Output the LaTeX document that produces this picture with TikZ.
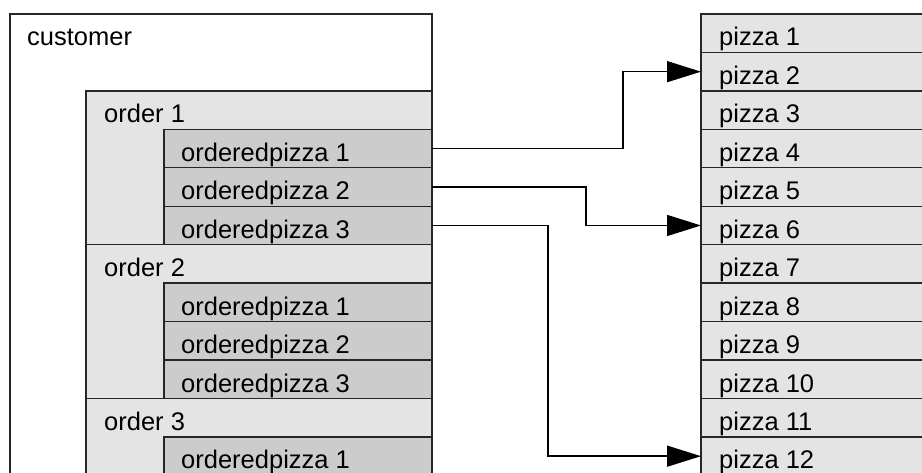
\documentclass[tikz,border=0pt]{standalone}
\usepackage{fontspec}
\setmainfont{Liberation Sans}
\usetikzlibrary{arrows.meta,calc}
\definecolor{lightfill}{HTML}{E4E4E4}
\definecolor{darkfill}{HTML}{CCCCCC}
\definecolor{edge}{HTML}{262626}
\begin{document}
\begin{tikzpicture}[x=1pt,y=-1pt,
  cell/.style={draw=edge, line width=1.4pt, rectangle, anchor=north west, inner sep=0pt, outer sep=0pt},
  lbl/.style={anchor=base west, inner sep=0pt, font=\fontsize{25.5}{30}\selectfont, text=black},
  link/.style={draw=black, line width=1.4pt, -{Triangle[length=34pt,width=21pt]}}]
\useasboundingbox (0,0) rectangle (922,473);
\clip (0,0) rectangle (922,473);
\def\rh{38.45}
% customer frame
\node[cell, fill=white, minimum width=422pt, minimum height=520pt] (cust) at (10,14) {};
\node[lbl] (custlbl) at ($(cust.north west)+(17,32)$) {customer};
% orders with their ordered pizzas
\foreach \o/\k in {1/2,2/6,3/10}{
  \node[cell, fill=lightfill, minimum width=346pt, minimum height={4*\rh pt}] (ord\o) at (86,{14+\k*\rh}) {};
  \node[lbl] (ordlbl\o) at ($(ord\o.north west)+(18,32)$) {order \o};
  \foreach \j in {1,2,3}{
    \node[cell, fill=darkfill, minimum width=268pt, minimum height={\rh pt}] (op\o\j) at (164,{14+(\k+\j)*\rh}) {};
    \node[lbl] (oplbl\o\j) at ($(op\o\j.north west)+(17,32)$) {orderedpizza \j};
  }
}
% pizza list
\foreach \p in {1,...,12}{
  \node[cell, fill=lightfill, minimum width=260pt, minimum height={\rh pt}] (p\p) at (701,{14+(\p-1)*\rh}) {};
  \node[lbl] (plbl\p) at ($(p\p.north west)+(18,32)$) {pizza \p};
}
% bend columns of the connectors
\coordinate (bendA) at (623,0);
\coordinate (bendB) at (586,0);
\coordinate (bendC) at (548,0);
\draw[link] (op11.east) -- (op11.east -| bendA) |- (p2.west);
\draw[link] (op12.east) -- (op12.east -| bendB) |- (p6.west);
\draw[link] (op13.east) -- (op13.east -| bendC) |- (p12.west);
\end{tikzpicture}
\end{document}
